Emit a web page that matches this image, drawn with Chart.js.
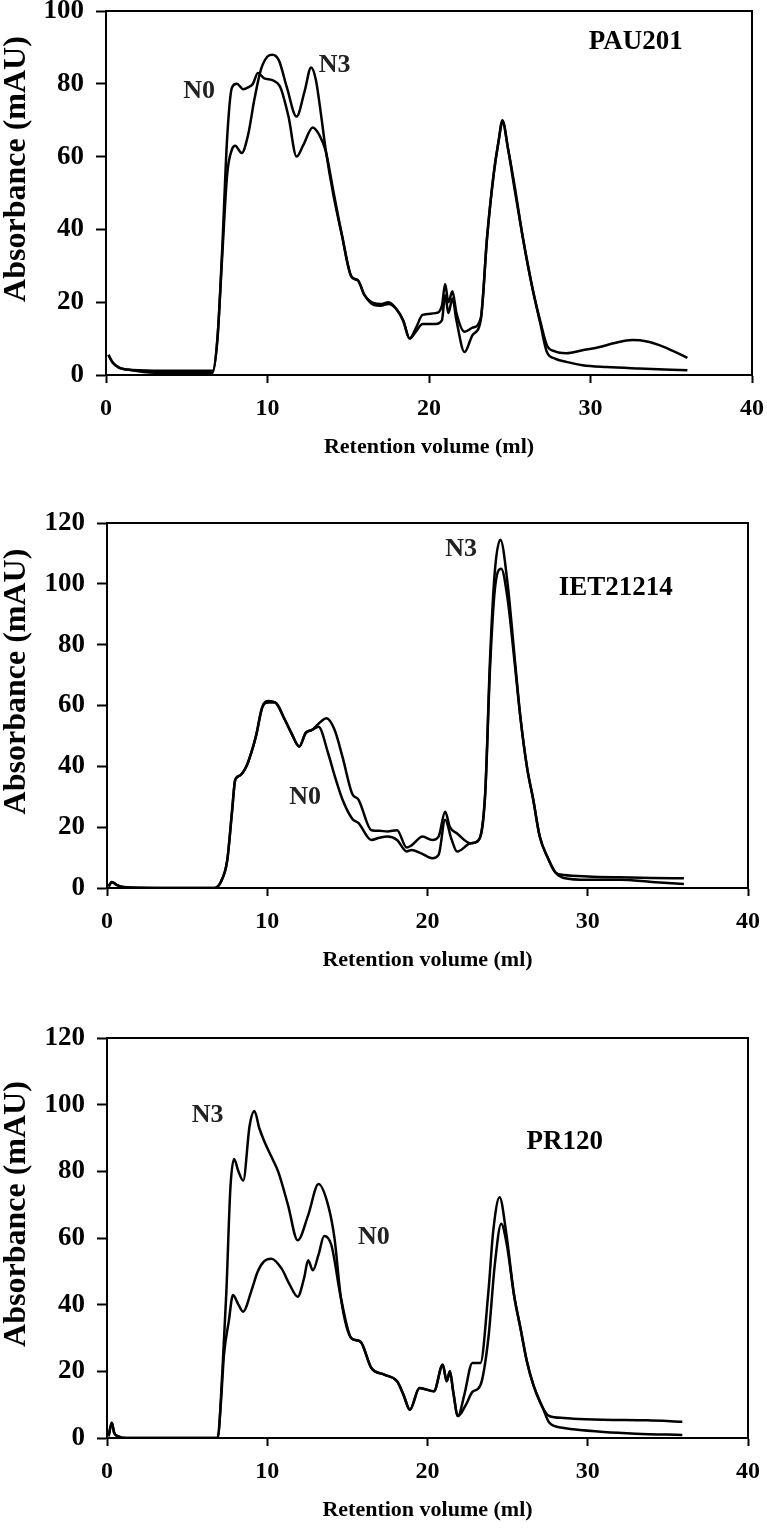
<!DOCTYPE html>
<html>
<head>
<meta charset="utf-8">
<title>Size exclusion chromatograms</title>
<script src="https://cdn.jsdelivr.net/npm/chart.js@4.4.1/dist/chart.umd.min.js"></script>
<style>
    body { margin: 0; background: #fff; }
    #wrap { position: relative; width: 767px; height: 1530px; background: #fff; }
    canvas { position: absolute; left: 0; }
</style>
</head>
<body>
<div id="wrap">
    <canvas id="chartPAU" width="767" height="480" style="top:0px"></canvas>
    <canvas id="chartIET" width="767" height="500" style="top:490px"></canvas>
    <canvas id="chartPR" width="767" height="530" style="top:1000px"></canvas>
</div>
<script>
// Axis ticks
const xTicks = [0, 10, 20, 30, 40];
const yTicksPAU = [0, 20, 40, 60, 80, 100];
const yTicksIET = [0, 20, 40, 60, 80, 100, 120];
const yTicksPR = [0, 20, 40, 60, 80, 100, 120];

// PAU201 - retention volume (ml) / absorbance (mAU)
const pauN0X = [0.15, 0.4, 0.8, 1.3, 3, 5, 6.6, 6.9, 7.2, 7.5, 7.8, 8.1, 8.5, 8.8, 9.1, 9.4, 9.8, 10.3, 10.8, 11.3, 11.8, 12.2, 12.8, 13.2, 13.6, 14.1, 14.6, 15.2, 15.6, 16.0, 16.6, 17.0, 17.5, 18.0, 18.4, 18.8, 19.2, 19.6, 20.4, 20.8, 21.0, 21.2, 21.45, 21.7, 22.2, 22.7, 23.2, 23.6, 24.0, 24.3, 24.55, 24.9, 25.3, 25.8, 26.4, 26.9, 27.3, 27.8, 28.5, 29.5, 30.5, 31.5, 32.6, 33.5, 34.5, 36.0];
const pauN0Y = [5.5, 3.5, 2, 1.5, 1.2, 1.2, 1.2, 10, 35, 65, 79, 80, 78.5, 79, 80, 83, 81.5, 81, 79, 71, 60, 63, 68, 66, 61.6, 50, 38.6, 27, 26, 22, 19.7, 19.5, 20, 18, 15, 10, 13, 16.5, 17, 19, 25, 20, 23, 17, 11.9, 13, 15.5, 38, 55, 64, 70, 62, 52, 38, 24, 14.6, 8.2, 6.5, 6, 6.8, 7.6, 8.8, 9.6, 9.2, 7.8, 4.7];
const pauN3X = [0.15, 0.4, 0.8, 1.3, 3, 5, 6.6, 6.9, 7.2, 7.5, 7.8, 8.0, 8.4, 8.8, 9.2, 9.6, 10.0, 10.3, 10.7, 11.2, 11.8, 12.3, 12.7, 13.0, 13.3, 13.6, 14.1, 14.6, 15.2, 15.6, 16.0, 16.6, 17.0, 17.5, 18.0, 18.4, 18.8, 19.2, 19.6, 20.4, 20.8, 21.0, 21.2, 21.45, 21.7, 22.2, 22.7, 23.2, 23.6, 24.0, 24.3, 24.55, 24.9, 25.3, 25.8, 26.4, 26.9, 27.3, 27.8, 28.5, 29.5, 31, 33, 36];
const pauN3Y = [5.5, 3.5, 2, 1.5, 0.6, 0.6, 0.6, 10, 33, 55, 62, 63, 61, 66, 76, 84, 87.5, 88, 86.5, 79, 71, 78, 84.5, 81, 72, 62, 49, 38.6, 27, 26, 22, 19.2, 19, 19.5, 18, 15, 10, 12, 14, 14, 15, 22, 17, 21, 15, 6.3, 11, 15, 38, 55, 64, 69.5, 62, 51, 38, 24, 14, 6.3, 4.5, 3.6, 2.7, 2.2, 1.8, 1.3];

// IET21214
const ietN0X = [0.1, 0.3, 0.6, 1.0, 3, 6.7, 7.1, 7.5, 7.8, 8.0, 8.3, 8.7, 9.0, 9.3, 9.7, 10.1, 10.5, 11.1, 11.5, 12.0, 12.4, 12.8, 13.2, 13.8, 14.2, 14.7, 15.3, 15.7, 16.5, 17.0, 17.5, 18.1, 18.7, 19.0, 19.6, 20.3, 20.7, 21.1, 21.5, 21.85, 22.7, 23.2, 23.6, 23.9, 24.2, 24.6, 25.0, 25.4, 25.8, 26.2, 26.6, 27.0, 27.5, 28.0, 28.5, 30, 32, 34, 36];
const ietN0Y = [0.5, 2, 1, 0.3, 0, 0, 2, 9, 25, 35.5, 37, 40, 44.4, 50, 59.6, 61, 61, 55.3, 51, 46.5, 51, 52, 53, 44.3, 37, 29, 22.8, 21.3, 15.8, 16.5, 16.9, 15.8, 12, 12.5, 11.4, 9.8, 11, 22.4, 16, 12, 14.7, 15.8, 31, 72, 98, 105, 95, 76, 56, 40, 29, 17, 10, 5, 3.3, 2.7, 2.7, 2.0, 1.3];
const ietN3X = [0.1, 0.3, 0.6, 1.0, 3, 6.7, 7.1, 7.5, 7.8, 8.0, 8.3, 8.7, 9.0, 9.3, 9.7, 10.1, 10.5, 11.1, 11.5, 12.0, 12.4, 12.8, 13.2, 13.7, 14.2, 14.7, 15.3, 15.7, 16.5, 17.0, 17.5, 18.1, 18.7, 19.0, 19.7, 20.3, 20.7, 21.1, 21.4, 21.85, 22.7, 23.2, 23.6, 23.9, 24.2, 24.55, 25.0, 25.4, 25.8, 26.2, 26.6, 27.0, 27.5, 28.0, 28.5, 30, 32, 34, 36];
const ietN3Y = [0.5, 2, 1, 0.3, 0, 0, 2, 9, 25, 35.5, 37, 40, 44.4, 50, 59.6, 61.5, 61, 55.3, 51, 46.5, 51, 52, 54, 55.8, 52, 43, 31, 29, 19, 18.8, 18.6, 19, 13.3, 14, 16.9, 15.8, 17, 25.1, 20, 17.9, 14.7, 15.8, 31, 75, 104, 114.5, 100, 78, 56, 40, 29, 17, 10, 5, 4.3, 3.8, 3.5, 3.3, 3.2];

// PR120
const prN0X = [0.1, 0.3, 0.45, 0.7, 1.2, 3, 6.9, 7.1, 7.3, 7.6, 7.86, 8.2, 8.49, 9.0, 9.4, 9.8, 10.26, 10.9, 11.4, 11.9, 12.3, 12.55, 12.85, 13.2, 13.55, 14.0, 14.6, 15.26, 15.8, 16.5, 17.3, 18.1, 18.5, 18.9, 19.5, 20.4, 20.95, 21.2, 21.4, 21.6, 21.9, 22.4, 22.8, 23.3, 23.8, 24.2, 24.6, 24.95, 25.4, 25.8, 26.2, 26.6, 27.2, 27.6, 28.5, 29.1, 31, 33, 35.9];
const prN0Y = [0.5, 4.6, 1.5, 0.5, 0, 0, 0, 10, 25, 35, 42.9, 40, 37.9, 44, 49.9, 53, 53.8, 50.8, 46, 42.4, 48, 53.3, 50.3, 55, 60.6, 57.9, 41.9, 29.9, 29, 21, 19, 17, 13, 8.5, 15, 14, 22, 17, 20, 14, 6.6, 10, 13.8, 15.8, 30, 52, 64.3, 58, 42.9, 33, 23, 16, 9, 4.6, 3, 2.6, 1.8, 1.3, 0.9];
const prN3X = [0.1, 0.3, 0.45, 0.7, 1.2, 3, 6.9, 7.2, 7.45, 7.7, 7.93, 8.2, 8.5, 8.9, 9.2, 9.5, 9.84, 10.3, 10.7, 11.3, 11.9, 12.55, 13.2, 13.8, 14.2, 14.6, 15.26, 15.8, 16.5, 17.3, 18.1, 18.5, 18.9, 19.5, 20.4, 20.95, 21.2, 21.4, 21.6, 21.9, 22.3, 22.8, 23.3, 23.8, 24.1, 24.5, 24.9, 25.4, 25.8, 26.2, 26.6, 27.2, 27.6, 28.5, 29.1, 31, 33.7, 35.9];
const prN3Y = [0.5, 4.6, 1.5, 0.5, 0, 0, 0, 20, 44, 75, 83.7, 80, 77.2, 93.7, 98.1, 93, 88.7, 84, 79.7, 69.8, 59.3, 66.8, 76.2, 69.8, 59.8, 41.9, 29.9, 29, 21, 19, 17, 13, 8.5, 15, 14, 22, 17, 20, 14, 6.6, 13, 22.5, 22.5, 43.9, 62, 72.2, 62, 42.9, 33, 23, 16, 9, 6.6, 6, 5.8, 5.5, 5.3, 4.9];

// Fonts
const SERIF = "'Liberation Serif', 'Times New Roman', serif";
Chart.defaults.font.family = SERIF;
Chart.defaults.font.weight = 'bold';
Chart.defaults.color = '#000';

function toPoints(xs, ys) {
    return xs.map((x, i) => ({ x: x, y: ys[i] }));
}

// Plot frame and in-plot labels
const framePlugin = {
    id: 'frameLabels',
    afterDatasetsDraw(chart, args, opts) {
        const { ctx, chartArea: a, scales } = chart;
        ctx.save();
        ctx.strokeStyle = '#000';
        ctx.lineWidth = 2;
        ctx.strokeRect(a.left, a.top, a.right - a.left, a.bottom - a.top);
        ctx.textAlign = 'center';
        ctx.textBaseline = 'middle';
        (opts.labels || []).forEach(l => {
            ctx.font = 'bold ' + l.size + 'px ' + SERIF;
            ctx.fillStyle = l.color || '#000';
            ctx.fillText(l.text, scales.x.getPixelForValue(l.x), scales.y.getPixelForValue(l.y));
        });
        ctx.restore();
    }
};

function makePanel(id, p) {
    const lineStyle = {
        borderColor: '#000',
        borderWidth: 2.5,
        pointRadius: 0,
        fill: false,
        cubicInterpolationMode: 'monotone',
        borderJoinStyle: 'round'
    };
    return new Chart(document.getElementById(id), {
        type: 'line',
        data: {
            datasets: [
                { label: 'N0', data: toPoints(p.n0x, p.n0y), ...lineStyle },
                { label: 'N3', data: toPoints(p.n3x, p.n3y), ...lineStyle }
            ]
        },
        options: {
            responsive: false,
            animation: false,
            events: [],
            layout: { padding: { top: p.padTop, bottom: p.padBottom, left: 0, right: p.padRight } },
            plugins: {
                legend: { display: false },
                tooltip: { enabled: false },
                frameLabels: { labels: p.labels }
            },
            scales: {
                x: {
                    type: 'linear',
                    min: xTicks[0],
                    max: xTicks[xTicks.length - 1],
                    afterBuildTicks: s => { s.ticks = xTicks.map(v => ({ value: v })); },
                    afterFit: s => {
                        s.height = 90;
                        s.paddingLeft = 0;
                        s.paddingRight = 0;
                    },
                    border: { display: true, color: '#000', width: 2 },
                    grid: { drawOnChartArea: false, drawTicks: true, tickLength: 8, tickWidth: 2, tickColor: '#000' },
                    ticks: { padding: 11, font: { size: 24, weight: 'bold' }, color: '#000', maxRotation: 0 },
                    title: {
                        display: true,
                        text: 'Retention volume (ml)',
                        font: { size: 22, weight: 'bold' },
                        color: '#000',
                        padding: { top: 0, bottom: 4 }
                    }
                },
                y: {
                    type: 'linear',
                    min: 0,
                    max: p.yTicks[p.yTicks.length - 1],
                    afterBuildTicks: s => { s.ticks = p.yTicks.map(v => ({ value: v })); },
                    afterFit: s => {
                        s.width = p.left;
                        s.paddingTop = 0;
                        s.paddingBottom = 0;
                    },
                    border: { display: true, color: '#000', width: 2 },
                    grid: { drawOnChartArea: false, drawTicks: true, tickLength: 10, tickWidth: 2, tickColor: '#000' },
                    ticks: { padding: 12, font: { size: 27, weight: 'bold' }, color: '#000' },
                    title: {
                        display: true,
                        // leading spaces lift the centred title a little, as in the source figure
                        text: '      Absorbance (mAU)',
                        font: { size: 32, weight: 'bold', lineHeight: 1 },
                        color: '#000',
                        padding: { top: 1, bottom: 0 }
                    }
                }
            }
        },
        plugins: [framePlugin]
    });
}

makePanel('chartPAU', {
    n0x: pauN0X, n0y: pauN0Y, n3x: pauN3X, n3y: pauN3Y,
    yTicks: yTicksPAU,
    left: 106, padTop: 11, padBottom: 15, padRight: 15,
    labels: [
        { text: 'N0', x: 5.76, y: 78, size: 26, color: '#222' },
        { text: 'N3', x: 14.15, y: 85, size: 26, color: '#222' },
        { text: 'PAU201', x: 32.8, y: 91.5, size: 27 }
    ]
});

makePanel('chartIET', {
    n0x: ietN0X, n0y: ietN0Y, n3x: ietN3X, n3y: ietN3Y,
    yTicks: yTicksIET,
    left: 107, padTop: 33, padBottom: 12, padRight: 19,
    labels: [
        { text: 'N3', x: 22.1, y: 111.5, size: 26, color: '#222' },
        { text: 'N0', x: 12.36, y: 29.8, size: 26, color: '#222' },
        { text: 'IET21214', x: 31.75, y: 98.7, size: 27 }
    ]
});

makePanel('chartPR', {
    n0x: prN0X, n0y: prN0Y, n3x: prN3X, n3y: prN3Y,
    yTicks: yTicksPR,
    left: 107, padTop: 38, padBottom: 2, padRight: 19,
    labels: [
        { text: 'N3', x: 6.28, y: 96.9, size: 26, color: '#222' },
        { text: 'N0', x: 16.66, y: 60.3, size: 26, color: '#222' },
        { text: 'PR120', x: 28.56, y: 88.8, size: 27 }
    ]
});
</script>
</body>
</html>
